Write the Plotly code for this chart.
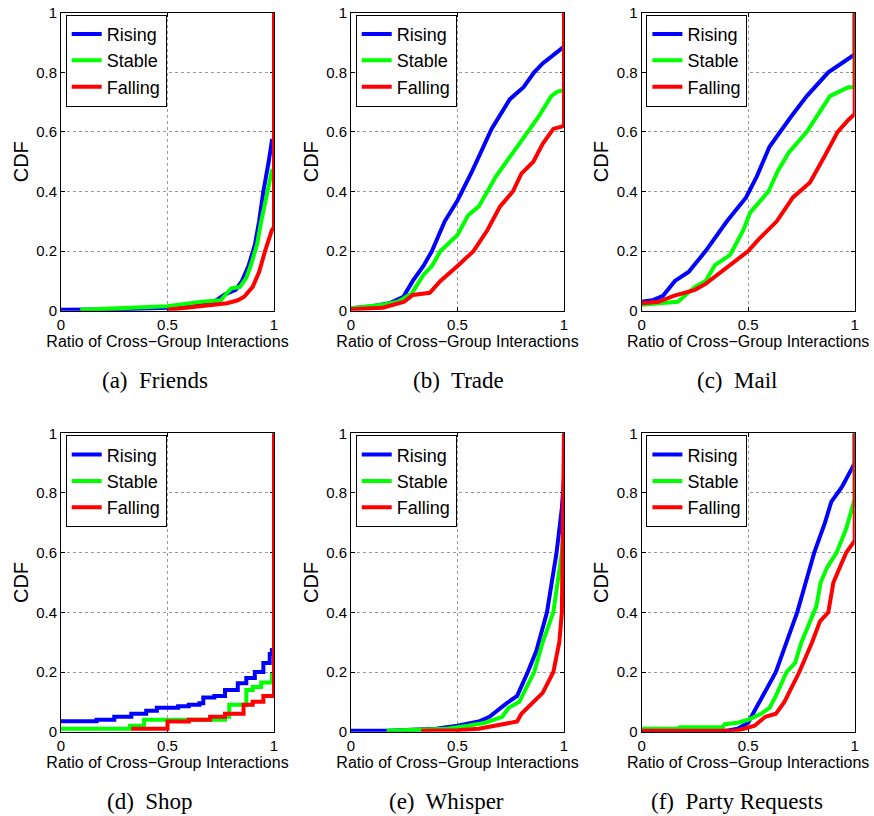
import plotly.graph_objects as go

# ---------------- data ----------------
SERIES_NAMES = ["Rising", "Stable", "Falling"]
SERIES_COLORS = ["#0000ff", "#00ff00", "#ff0000"]
PANEL_CAPTIONS = ["(a)  Friends", "(b)  Trade", "(c)  Mail",
                  "(d)  Shop", "(e)  Whisper", "(f)  Party Requests"]
X_TICKS = [0, 0.5, 1]
X_TICK_LABELS = ["0", "0.5", "1"]
Y_TICKS = [0, 0.2, 0.4, 0.6, 0.8, 1]
Y_TICK_LABELS = ["0", "0.2", "0.4", "0.6", "0.8", "1"]
X_TITLE = "Ratio of Cross\u2212Group Interactions"
Y_TITLE = "CDF"

# (a) Friends
friends_rising_x = [0, 0.3, 0.5, 0.6, 0.72, 0.75, 0.77, 0.82, 0.85, 0.88, 0.91, 0.93, 0.95, 0.975, 0.99, 1.0, 1.0]
friends_rising_y = [0.003, 0.005, 0.01, 0.015, 0.03, 0.045, 0.055, 0.07, 0.1, 0.15, 0.22, 0.3, 0.4, 0.5, 0.57, 0.57, 1.0]
friends_stable_x = [0.09, 0.35, 0.5, 0.66, 0.75, 0.78, 0.8, 0.84, 0.87, 0.89, 0.92, 0.94, 0.965, 0.99, 1.0, 1.0]
friends_stable_y = [0.003, 0.01, 0.015, 0.03, 0.035, 0.06, 0.075, 0.08, 0.11, 0.15, 0.22, 0.3, 0.39, 0.47, 0.47, 1.0]
friends_falling_x = [0.5, 0.6, 0.7, 0.78, 0.83, 0.86, 0.9, 0.93, 0.958, 0.975, 0.99, 1.0, 1.0]
friends_falling_y = [0.003, 0.01, 0.02, 0.025, 0.035, 0.047, 0.08, 0.13, 0.2, 0.24, 0.27, 0.28, 1.0]

# (b) Trade
trade_rising_x = [0, 0.1, 0.18, 0.246, 0.29, 0.34, 0.38, 0.44, 0.5, 0.57, 0.66, 0.746, 0.81, 0.86, 0.9, 0.95, 1.0, 1.0]
trade_rising_y = [0.008, 0.015, 0.025, 0.047, 0.1, 0.15, 0.2, 0.3, 0.37, 0.47, 0.61, 0.71, 0.75, 0.8, 0.83, 0.86, 0.886, 1.0]
trade_stable_x = [0, 0.15, 0.22, 0.285, 0.34, 0.38, 0.42, 0.5, 0.55, 0.6, 0.68, 0.75, 0.81, 0.88, 0.94, 0.97, 1.0, 1.0]
trade_stable_y = [0.008, 0.02, 0.03, 0.058, 0.12, 0.15, 0.2, 0.254, 0.32, 0.35, 0.45, 0.52, 0.58, 0.65, 0.72, 0.735, 0.74, 1.0]
trade_falling_x = [0, 0.15, 0.25, 0.29, 0.37, 0.42, 0.5, 0.575, 0.64, 0.7, 0.76, 0.8, 0.856, 0.9, 0.95, 1.0, 1.0]
trade_falling_y = [0.005, 0.01, 0.03, 0.053, 0.06, 0.1, 0.15, 0.2, 0.27, 0.35, 0.4, 0.46, 0.5, 0.56, 0.61, 0.62, 1.0]

# (c) Mail
mail_rising_x = [0, 0.05, 0.1, 0.156, 0.22, 0.3, 0.4, 0.49, 0.54, 0.6, 0.7, 0.775, 0.876, 0.94, 1.0, 1.0]
mail_rising_y = [0.03, 0.035, 0.05, 0.1, 0.13, 0.2, 0.3, 0.38, 0.45, 0.55, 0.65, 0.72, 0.8, 0.83, 0.86, 1.0]
mail_stable_x = [0, 0.1, 0.17, 0.25, 0.3, 0.344, 0.415, 0.477, 0.51, 0.595, 0.64, 0.69, 0.775, 0.884, 0.97, 1.0, 1.0]
mail_stable_y = [0.02, 0.025, 0.03, 0.08, 0.1, 0.153, 0.187, 0.27, 0.33, 0.4, 0.47, 0.53, 0.6, 0.72, 0.75, 0.75, 1.0]
mail_falling_x = [0, 0.08, 0.15, 0.25, 0.3, 0.37, 0.5, 0.55, 0.634, 0.71, 0.79, 0.86, 0.92, 0.97, 1.0, 1.0]
mail_falling_y = [0.025, 0.03, 0.05, 0.07, 0.09, 0.13, 0.2, 0.24, 0.3, 0.38, 0.43, 0.52, 0.6, 0.64, 0.66, 1.0]

# (d) Shop (stepwise)
shop_rising_x = [0, 0.1, 0.167, 0.25, 0.33, 0.4, 0.45, 0.55, 0.6, 0.65, 0.668, 0.72, 0.77, 0.83, 0.87, 0.91, 0.95, 0.98, 0.99, 1.0]
shop_rising_y = [0.035, 0.035, 0.04, 0.05, 0.06, 0.07, 0.08, 0.085, 0.09, 0.095, 0.115, 0.12, 0.14, 0.162, 0.18, 0.2, 0.23, 0.26, 0.274, 1.0]
shop_stable_x = [0, 0.324, 0.39, 0.77, 0.79, 0.87, 0.9, 0.94, 0.99, 1.0]
shop_stable_y = [0.01, 0.02, 0.04, 0.05, 0.09, 0.14, 0.15, 0.165, 0.19, 1.0]
shop_falling_x = [0.33, 0.5, 0.6, 0.7, 0.77, 0.857, 0.9, 0.95, 1.0]
shop_falling_y = [0.01, 0.034, 0.04, 0.05, 0.06, 0.09, 0.1, 0.12, 1.0]

# (e) Whisper
whisper_rising_x = [0, 0.17, 0.4, 0.5, 0.6, 0.65, 0.73, 0.78, 0.83, 0.87, 0.92, 0.965, 0.99, 1.0, 1.0]
whisper_rising_y = [0.003, 0.003, 0.01, 0.02, 0.034, 0.05, 0.095, 0.12, 0.2, 0.27, 0.4, 0.6, 0.75, 0.85, 1.0]
whisper_stable_x = [0.167, 0.3, 0.45, 0.55, 0.63, 0.71, 0.74, 0.79, 0.86, 0.9, 0.95, 0.97, 0.99, 1.0, 1.0]
whisper_stable_y = [0.003, 0.005, 0.01, 0.02, 0.03, 0.05, 0.08, 0.1, 0.2, 0.3, 0.4, 0.5, 0.6, 0.7, 1.0]
whisper_falling_x = [0.33, 0.5, 0.6, 0.68, 0.78, 0.8, 0.87, 0.9, 0.95, 0.978, 0.99, 1.0]
whisper_falling_y = [0.003, 0.005, 0.01, 0.02, 0.034, 0.06, 0.106, 0.13, 0.2, 0.3, 0.4, 1.0]

# (f) Party Requests
party_rising_x = [0, 0.4, 0.45, 0.5, 0.53, 0.57, 0.63, 0.68, 0.73, 0.77, 0.81, 0.86, 0.89, 0.94, 1.0, 1.0]
party_rising_y = [0.003, 0.003, 0.01, 0.03, 0.07, 0.12, 0.2, 0.3, 0.4, 0.5, 0.6, 0.7, 0.77, 0.82, 0.9, 1.0]
party_stable_x = [0, 0.17, 0.18, 0.38, 0.39, 0.45, 0.5, 0.56, 0.6, 0.63, 0.68, 0.72, 0.75, 0.78, 0.82, 0.84, 0.87, 0.915, 0.96, 1.0, 1.0]
party_stable_y = [0.01, 0.01, 0.015, 0.015, 0.025, 0.03, 0.04, 0.06, 0.08, 0.12, 0.2, 0.23, 0.3, 0.35, 0.42, 0.5, 0.55, 0.6, 0.68, 0.78, 1.0]
party_falling_x = [0, 0.44, 0.48, 0.53, 0.58, 0.63, 0.67, 0.74, 0.8, 0.837, 0.876, 0.9, 0.93, 0.96, 1.0, 1.0]
party_falling_y = [0.003, 0.003, 0.01, 0.02, 0.05, 0.06, 0.1, 0.2, 0.3, 0.37, 0.4, 0.5, 0.55, 0.6, 0.64, 1.0]

PANELS = [
    [(friends_rising_x, friends_rising_y), (friends_stable_x, friends_stable_y), (friends_falling_x, friends_falling_y)],
    [(trade_rising_x, trade_rising_y), (trade_stable_x, trade_stable_y), (trade_falling_x, trade_falling_y)],
    [(mail_rising_x, mail_rising_y), (mail_stable_x, mail_stable_y), (mail_falling_x, mail_falling_y)],
    [(shop_rising_x, shop_rising_y), (shop_stable_x, shop_stable_y), (shop_falling_x, shop_falling_y)],
    [(whisper_rising_x, whisper_rising_y), (whisper_stable_x, whisper_stable_y), (whisper_falling_x, whisper_falling_y)],
    [(party_rising_x, party_rising_y), (party_stable_x, party_stable_y), (party_falling_x, party_falling_y)],
]
STEP_PANELS = [3]

# ---------------- layout geometry ----------------
W, H = 874, 816
COL_PX = [(61, 274), (351, 564), (641.7, 854.7)]
ROW_PX = [(12.7, 310.7), (433.3, 731.7)]
CAPTION_X_PX = [155, 458, 737, 150, 447, 737]
CAPTION_Y_PX = [380, 801]

SANS = "Liberation Sans, Arial, Helvetica, sans-serif"
SERIF = "Liberation Serif, Times New Roman, serif"


def px_x(v):
    return v / W


def px_y(v):
    return 1 - v / H


fig = go.Figure()
layout = dict(
    width=W, height=H, margin=dict(l=0, r=0, t=0, b=0, autoexpand=False),
    paper_bgcolor="white", plot_bgcolor="white",
    font=dict(family=SANS, color="black"),
    annotations=[],
)

for p, series in enumerate(PANELS):
    r, c = divmod(p, 3)
    idx = "" if p == 0 else str(p + 1)
    xa, ya = "x" + idx, "y" + idx
    lg = "legend" + idx
    shape = "hv" if p in STEP_PANELS else "linear"
    for s, (xs, ys) in enumerate(series):
        fig.add_trace(go.Scatter(
            x=xs, y=ys, mode="lines", name=SERIES_NAMES[s],
            line=dict(color=SERIES_COLORS[s], width=4, shape=shape),
            xaxis=xa, yaxis=ya, legend=lg, showlegend=True,
        ))
    x0, x1 = COL_PX[c]
    yt, yb = ROW_PX[r]
    axis_common = dict(
        showline=True, linecolor="black", linewidth=1, mirror="allticks",
        ticks="inside", ticklen=4, tickcolor="black", tickwidth=1,
        showgrid=True, gridcolor="#9a9a9a", griddash="dot", gridwidth=1,
        zeroline=False, tickfont=dict(family=SANS, size=15, color="black"),
        layer="below traces", automargin=False, ticklabeloverflow="allow",
    )
    layout["xaxis" + idx] = dict(
        axis_common, domain=[px_x(x0), px_x(x1)], anchor=ya, range=[0, 1],
        tickvals=X_TICKS, ticktext=X_TICK_LABELS,
        title=dict(text=X_TITLE, font=dict(family=SANS, size=16, color="black"), standoff=0),
    )
    layout["yaxis" + idx] = dict(
        axis_common, domain=[px_y(yb), px_y(yt)], anchor=xa, range=[0, 1],
        tickvals=Y_TICKS, ticktext=Y_TICK_LABELS,
        title=dict(text=Y_TITLE, font=dict(family=SANS, size=20, color="black"), standoff=2),
    )
    layout[lg] = dict(
        x=px_x(x0 + 4.7), y=px_y(yt + 2), xanchor="left", yanchor="top",
        bgcolor="white", bordercolor="black", borderwidth=1,
        font=dict(family=SANS, size=18, color="black"),
        tracegroupgap=0, itemwidth=30,
    )
    layout["annotations"].append(dict(
        text=PANEL_CAPTIONS[p], xref="paper", yref="paper",
        x=px_x(CAPTION_X_PX[p]), y=px_y(CAPTION_Y_PX[r]),
        xanchor="center", yanchor="middle", showarrow=False,
        font=dict(family=SERIF, size=23, color="black"),
    ))

fig.update_layout(**layout)
fig.write_html("out.html", config={"displayModeBar": False},
               post_script="document.body.style.margin='0';")
